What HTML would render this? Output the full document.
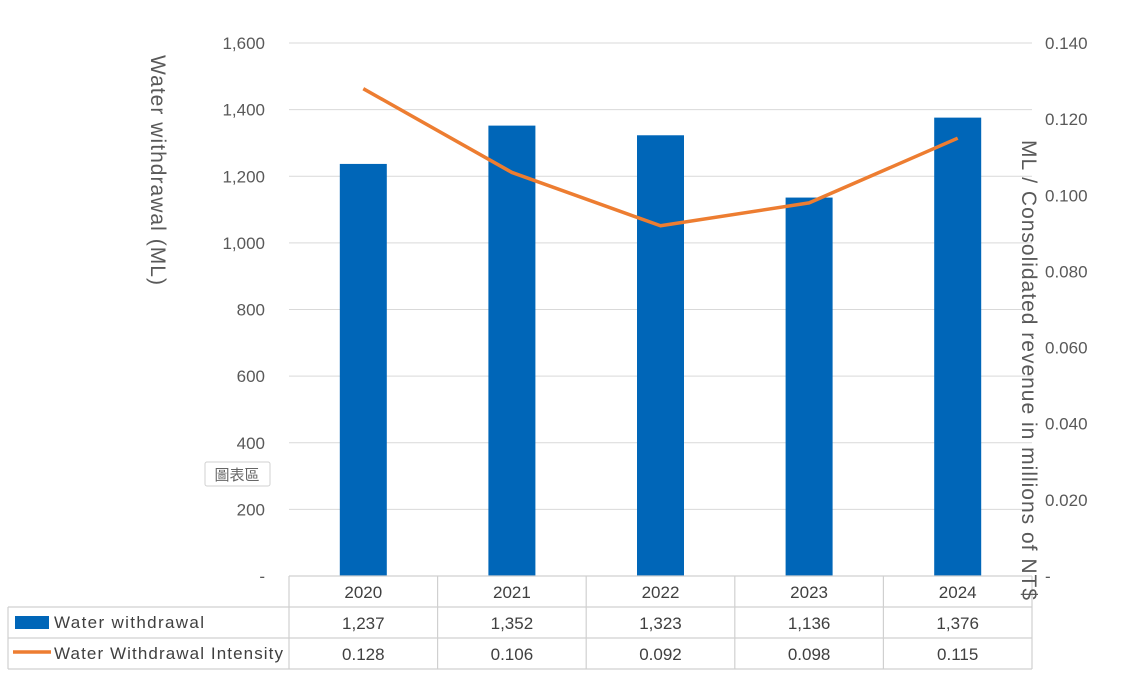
<!DOCTYPE html>
<html><head><meta charset="utf-8"><style>
body{margin:0;background:#fff;width:1121px;height:680px;overflow:hidden;font-family:"Liberation Sans","Noto Sans CJK TC",sans-serif;}
</style></head><body>
<svg id="c" width="1121" height="680" xmlns="http://www.w3.org/2000/svg" font-family="Liberation Sans, Noto Sans CJK TC, sans-serif"></svg>
<script>
const categories=["2020","2021","2022","2023","2024"];
const withdrawal=[1237,1352,1323,1136,1376];
const intensity=[0.128,0.106,0.092,0.098,0.115];
const withdrawalLabels=["1,237","1,352","1,323","1,136","1,376"];
const intensityLabels=["0.128","0.106","0.092","0.098","0.115"];
const leftTicks=[0,200,400,600,800,1000,1200,1400,1600];
const rightTicks=[0,0.02,0.04,0.06,0.08,0.1,0.12,0.14];
const X0=289,X1=1032,Y0=576,Y1=43;
const bw=(X1-X0)/categories.length;
const xc=i=>X0+bw*(i+0.5);
const yL=v=>Y0-(v/1600)*(Y0-Y1);
const yR=v=>Y0-(v/0.14)*(Y0-Y1);
const svg=document.getElementById('c');
const NS="http://www.w3.org/2000/svg";
function mk(t,a,txt){const e=document.createElementNS(NS,t);for(const k in a)e.setAttribute(k,a[k]);if(txt!==undefined)e.textContent=txt;svg.appendChild(e);return e;}
leftTicks.forEach(v=>{
 if(v>0){const g=mk('line',{x1:X0,x2:X1,y1:yL(v),y2:yL(v),stroke:'#d9d9d9','stroke-width':1});
 
 }
 const t=mk('text',{x:265,y:yL(v)+6,'text-anchor':'end','font-size':17,fill:'#595959'},v===0?'-':v.toLocaleString('en-US'));
 
 
});
rightTicks.forEach(v=>{
 const t=mk('text',{x:1045,y:yR(v)+6,'font-size':17,fill:'#595959'},v===0?'-':v.toFixed(3));
 
 
});
categories.forEach((c,i)=>{
 const b=mk('rect',{x:xc(i)-23.5,y:yL(withdrawal[i]),width:47,height:Y0-yL(withdrawal[i]),fill:'#0066b8'});
 
 
});
const pts=intensity.map((v,i)=>xc(i)+','+yR(v)).join(' ');
const ln=mk('polyline',{points:pts,fill:'none',stroke:'#ed7d31','stroke-width':3.5,'stroke-linejoin':'round'});


const tl=(x1,y1,x2,y2)=>{const l=mk('line',{x1,y1,x2,y2,stroke:'#d0d0d0','stroke-width':1.2});};
tl(X0,576,X1,576);tl(8,607,X1,607);tl(8,638,X1,638);tl(8,669,X1,669);
tl(8,607,8,669);
for(let i=0;i<=categories.length;i++)tl(X0+bw*i,576,X0+bw*i,669);
categories.forEach((c,i)=>{
 const a=mk('text',{x:xc(i),y:598,'text-anchor':'middle','font-size':17,fill:'#404040'},c);
 
 
 const b=mk('text',{x:xc(i),y:629,'text-anchor':'middle','font-size':17,fill:'#404040'},withdrawalLabels[i]);
 
 
 const d=mk('text',{x:xc(i),y:660,'text-anchor':'middle','font-size':17,fill:'#404040'},intensityLabels[i]);
 
 
});
const k1=mk('rect',{x:15,y:616,width:34,height:13,fill:'#0066b8'});


const t1=mk('text',{x:54,y:628,'font-size':17,fill:'#404040',textLength:150},'Water withdrawal');


const k2=mk('line',{x1:13,x2:51,y1:652,y2:652,stroke:'#ed7d31','stroke-width':3.5});


const t2=mk('text',{x:54,y:659,'font-size':17,fill:'#404040',textLength:229},'Water Withdrawal Intensity');


const a1=mk('text',{x:0,y:0,'font-size':21,fill:'#595959','text-anchor':'middle',textLength:230,transform:'translate(151,170) rotate(90)'},'Water withdrawal (ML)');


const a2=mk('text',{x:0,y:0,'font-size':21,fill:'#595959','text-anchor':'middle',textLength:460,transform:'translate(1022,370) rotate(90)'},'ML / Consolidated revenue in millions of NT$');


const tip=mk('rect',{x:205,y:462,width:65,height:24,fill:'#fff',stroke:'#d0d0d0',rx:2});


const tt=mk('text',{x:237,y:480,'text-anchor':'middle','font-size':15,fill:'#666'},'圖表區');


</script>
</body></html>
